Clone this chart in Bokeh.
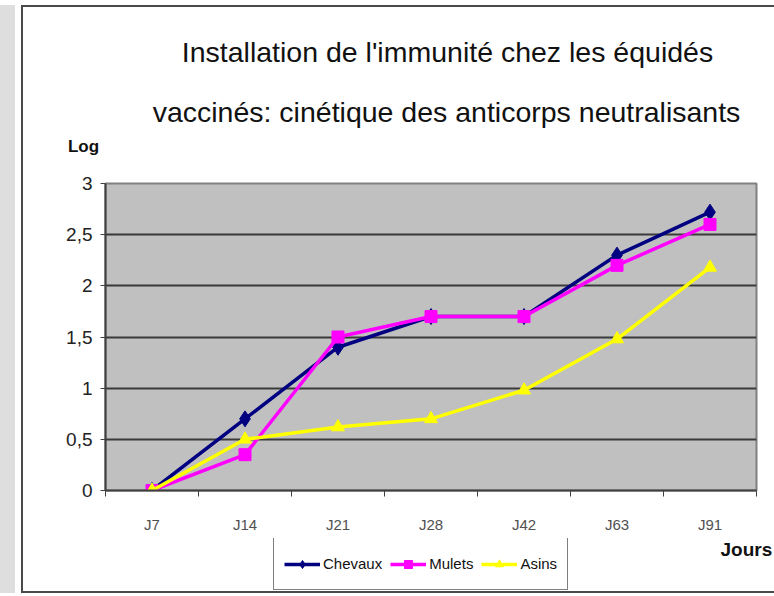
from bokeh.plotting import figure
from bokeh.layouts import column, row
from bokeh.models import Range1d, FixedTicker, Label
from bokeh.embed import file_html
from bokeh.resources import INLINE

# ---- data ----
days = ["J7", "J14", "J21", "J28", "J42", "J63", "J91"]
chevaux = [0.0, 0.7, 1.4, 1.7, 1.7, 2.3, 2.72]
mulets = [0.0, 0.35, 1.5, 1.7, 1.7, 2.2, 2.6]
asins = [0.0, 0.5, 0.62, 0.7, 0.98, 1.48, 2.18]
series_names = ["Chevaux", "Mulets", "Asins"]
y_ticks = [0, 0.5, 1, 1.5, 2, 2.5, 3]
y_tick_labels = ["0", "0,5", "1", "1,5", "2", "2,5", "3"]
title_lines = ["Installation de l'immunité chez les équidés",
               "vaccinés: cinétique des anticorps neutralisants"]
y_name = "Log"
x_name = "Jours"

FONT = "Liberation Sans"
W = 751
styles = [("#000080", "diamond", 16), ("#ff00ff", "square", 12), ("#ffff00", "triangle", 13)]
all_series = [chevaux, mulets, asins]
x = [i + 0.5 for i in range(len(days))]


def blank(height, yr=(0, 1)):
    f = figure(width=W, height=height, output_backend="svg", toolbar_location=None,
               x_axis_type=None, y_axis_type=None, x_range=Range1d(0, len(days)),
               y_range=Range1d(*yr),
               min_border_left=0, min_border_right=0, min_border_top=0, min_border_bottom=0)
    f.outline_line_color = None
    f.background_fill_color = "white"
    f.border_fill_color = "white"
    f.grid.visible = False
    return f


def text_label(fig, xs, ys, txt, size, align="center", bold=False):
    fig.add_layout(Label(x=xs, y=ys, x_units="screen", y_units="screen", text=txt,
                         text_align=align, text_baseline="middle", text_font=FONT,
                         text_font_size=size, text_font_style="bold" if bold else "normal",
                         text_color="#111111"))


# ---- title area ----
t = blank(164)
text_label(t, 424, 119.5, title_lines[0], "28.5px")
text_label(t, 423, 60, title_lines[1], "28.5px")
text_label(t, 60, 25, y_name, "17px", bold=True)

# ---- main chart ----
p = figure(width=W, height=367, output_backend="svg", toolbar_location=None,
           x_range=Range1d(0, len(days)), y_range=Range1d(0, 3),
           min_border_left=82, min_border_right=18, min_border_top=12, min_border_bottom=48)
p.background_fill_color = "#c0c0c0"
p.border_fill_color = "white"
p.outline_line_color = "#808080"
p.outline_line_width = 2

p.xgrid.visible = False
p.ygrid.ticker = FixedTicker(ticks=y_ticks)
p.ygrid.grid_line_color = "#3a3a3a"
p.ygrid.grid_line_width = 2

p.yaxis.ticker = FixedTicker(ticks=y_ticks)
p.yaxis.major_label_overrides = {tk: lb for tk, lb in zip(y_ticks, y_tick_labels)}
p.yaxis.major_label_text_font = FONT
p.yaxis.major_label_text_font_size = "19px"
p.yaxis.major_label_text_color = "#222222"
p.yaxis.major_tick_out = 5
p.yaxis.major_tick_in = 0
p.yaxis.minor_tick_line_color = None
p.yaxis.axis_line_color = "#404040"
p.yaxis.axis_line_width = 2
p.yaxis.major_tick_line_color = "#404040"
p.yaxis.major_label_standoff = 8

p.xaxis.ticker = FixedTicker(ticks=x, minor_ticks=list(range(len(days) + 1)))
p.xaxis.major_label_overrides = {xv: d for xv, d in zip(x, days)}
p.xaxis.major_label_text_font = FONT
p.xaxis.major_label_text_font_size = "15px"
p.xaxis.major_label_text_color = "#505050"
p.xaxis.major_tick_line_color = None
p.xaxis.major_tick_out = 0
p.xaxis.major_tick_in = 0
p.xaxis.minor_tick_out = 6
p.xaxis.minor_tick_in = 0
p.xaxis.minor_tick_line_color = "#404040"
p.xaxis.minor_tick_line_width = 1
p.xaxis.axis_line_color = "#404040"
p.xaxis.axis_line_width = 2
p.xaxis.major_label_standoff = 19

for ys, (col, marker, size) in zip(all_series, styles):
    p.line(x, ys, line_color=col, line_width=3.5)
    p.scatter(x, ys, marker=marker, size=size, fill_color=col, line_color=col)

# ---- bottom strip: legend + x name (series drawn off-range, legend only) ----
b = blank(53, yr=(10, 11))
for name, ys, (col, marker, size) in zip(series_names, all_series, styles):
    b.line(x, ys, line_color=col, line_width=3.5, legend_label=name)
    b.scatter(x, ys, marker=marker, size=size, fill_color=col, line_color=col, legend_label=name)
lg = b.legend[0]
lg.location = (250, 1)
lg.orientation = "horizontal"
lg.label_text_font = FONT
lg.label_text_font_size = "15px"
lg.label_text_color = "#111111"
lg.label_standoff = 3
lg.glyph_width = 36
lg.glyph_height = 20
lg.label_height = 31
lg.spacing = 8
lg.padding = 10
lg.margin = 0
lg.border_line_color = "black"
lg.border_line_width = 1.5
lg.background_fill_color = "white"
text_label(b, 697, 42.5, x_name, "19px", align="left", bold=True)

layout = column(row(t), row(p), row(b), spacing=0, margin=(5, 0, 0, 21),
                styles={"border-left": "2px solid #4a4a4a",
                        "border-top": "2px solid #4a4a4a",
                        "border-bottom": "2px solid #4a4a4a",
                        "box-shadow": "-6px 0 0 0 white, -21px 0 0 0 #dedede"})

open("out.html", "w").write(file_html(layout, INLINE))
